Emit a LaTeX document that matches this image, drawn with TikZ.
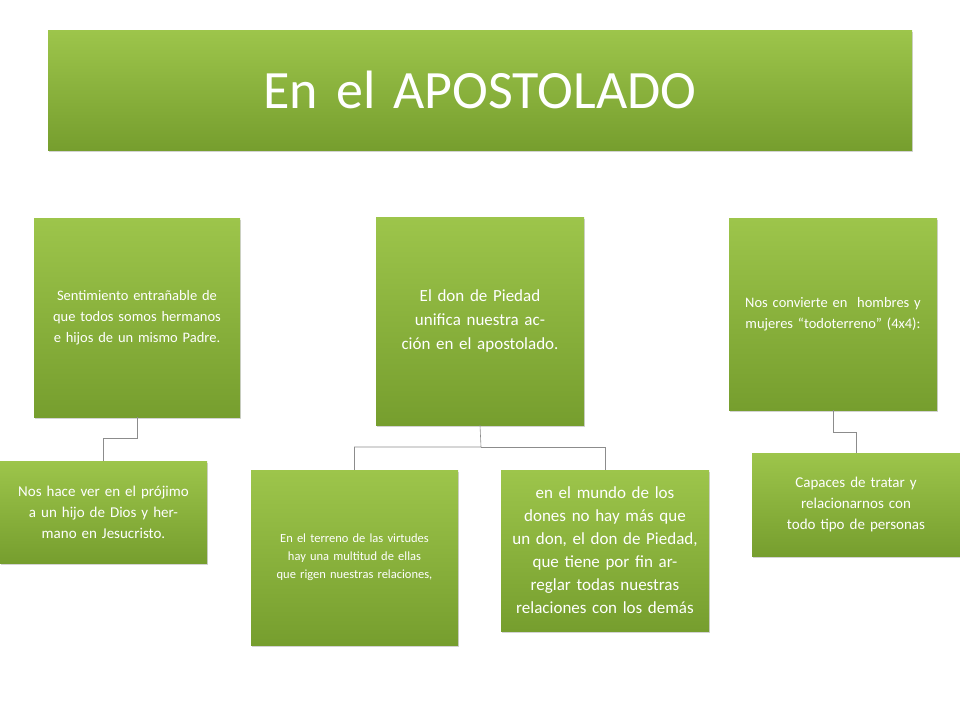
\documentclass[tikz,border=0pt]{standalone}
\usepackage{fontspec}
\setmainfont{Carlito}
\usetikzlibrary{shadows}
\begin{document}
\begin{tikzpicture}[x=1pt,y=-1pt,
  gbox/.style={draw=none,top color=green!45!lime!70!olive!90!white,bottom color=olive!80!green!90!black,
    shading angle=0,drop shadow={shadow xshift=1pt,shadow yshift=-2pt,opacity=0.35},
    text=white,align=center,inner sep=2pt},
  conn/.style={draw=black!45,line width=0.6pt}]
\useasboundingbox (0,0) rectangle (960,720);
\tikzset{gfill/.style={gbox,top color={rgb,255:red,157;green,197;blue,75},bottom color={rgb,255:red,118;green,158;blue,46}}}
\def\bx#1#2#3#4#5#6#7{\node[gfill,minimum width=#4-#2 pt,minimum height=#5-#3 pt,text width=#4-#2-6 pt,font=#6] (#1) at ({(#2+#4)/2},{(#3+#5)/2}) {#7};}
\bx{t}{48}{30}{912}{150}{\fontsize{54}{60}\selectfont}{En el APOSTOLADO}
\bx{a}{34}{218}{240}{417}{\fontsize{14.5}{21}\selectfont}{Sentimiento entrañable de que todos somos hermanos e hijos de un mismo Padre.\\[64pt]}
\bx{b}{0}{461}{207}{563}{\fontsize{15}{21}\selectfont}{Nos hace ver en el prójimo a un hijo de Dios y hermano en Jesucristo.}
\bx{c}{376}{217}{584}{425}{\fontsize{17}{24}\selectfont}{El don de Piedad unifica nuestra acción en el apostolado.\\[84pt]}
\bx{d}{251}{470}{458}{645}{\fontsize{12.5}{18}\selectfont}{En el terreno de las virtudes hay una multitud de ellas que rigen nuestras relaciones,}
\bx{e}{501}{470}{709}{631}{\fontsize{17}{23}\selectfont}{en el mundo de los dones no hay más que un don, el don de Piedad, que tiene por fin arreglar todas nuestras relaciones con los demás}
\bx{f}{729}{218}{937}{410}{\fontsize{14.5}{21}\selectfont}{Nos convierte en\ \ hombres y mujeres “todoterreno” (4x4):\\[76pt]}
\bx{g}{752}{453}{960}{556}{\fontsize{15}{21}\selectfont}{Capaces de tratar y relacionarnos con todo tipo de personas}
\draw[conn] (a.south) -- (137,438) -| (b.north);
\draw[conn] (c.south) -- (481,447) -| (d.north);
\draw[conn] (481,447) -| (e.north);
\draw[conn] (f.south) -- (833,432) -| (g.north);
\end{tikzpicture}
\end{document}
